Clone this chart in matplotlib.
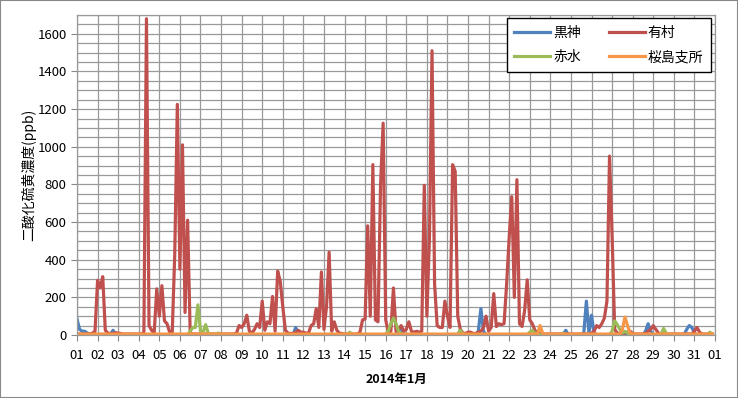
import numpy as np
import matplotlib
matplotlib.use("Agg")
import matplotlib.pyplot as plt
from matplotlib.patches import Rectangle

plt.rcParams['font.family'] = ['Noto Sans CJK JP', 'DejaVu Sans']

# 3-hourly SO2 readings (ppb), Jan 2014, one row per day (8 values)
kurokami = [
    [85, 30, 20, 20, 10, 5, 3, 3], [3, 3, 3, 3, 3, 3, 25, 5], [2] * 8, [2] * 8,
    [2] * 8, [2] * 8, [2] * 8, [2] * 8, [2] * 8, [2] * 8,
    [2, 2, 2, 2, 2, 40, 10, 2], [2] * 8, [2] * 8, [2] * 8, [2] * 8,
    [2, 2, 2, 2, 2, 35, 30, 5], [2] * 8, [2] * 8,
    [2, 2, 2, 2, 2, 25, 5, 2], [2, 2, 2, 2, 20, 140, 20, 2],
    [2] * 8, [2] * 8, [2] * 8, [2, 2, 2, 2, 2, 5, 25, 2],
    [2, 2, 2, 2, 2, 10, 180, 10], [105, 10, 2, 2, 2, 2, 2, 2], [2] * 8,
    [2, 2, 2, 2, 2, 20, 60, 20], [2] * 8,
    [2, 2, 2, 2, 2, 30, 50, 40], [10, 2, 2, 2, 2, 2, 2, 2],
]
arimura = [
    [5, 5, 5, 5, 5, 5, 10, 20],
    [290, 250, 310, 25, 10, 8, 8, 12],
    [10, 8, 5, 5, 5, 5, 5, 5],
    [5, 5, 15, 1680, 50, 25, 10, 245],
    [100, 262, 75, 60, 15, 5, 430, 1225],
    [350, 1010, 120, 610, 10, 5, 5, 5],
    [5, 5, 5, 5, 5, 5, 5, 5],
    [5, 5, 5, 5, 5, 5, 10, 50],
    [40, 60, 105, 20, 10, 30, 60, 40],
    [180, 25, 70, 60, 205, 20, 340, 285],
    [150, 25, 10, 8, 8, 15, 25, 15],
    [15, 10, 10, 50, 60, 140, 40, 335],
    [30, 150, 440, 20, 70, 25, 10, 8],
    [5, 5, 5, 5, 5, 5, 15, 80],
    [85, 580, 100, 905, 80, 70, 800, 1125],
    [80, 15, 20, 250, 20, 30, 50, 20],
    [30, 70, 20, 15, 20, 15, 20, 795],
    [100, 515, 1510, 270, 50, 40, 40, 180],
    [100, 40, 905, 870, 100, 30, 10, 8],
    [15, 15, 8, 8, 15, 20, 40, 100],
    [20, 40, 220, 45, 60, 55, 60, 270],
    [520, 735, 200, 825, 60, 45, 130, 293],
    [80, 60, 25, 10, 8, 5, 5, 5],
    [5, 5, 5, 5, 5, 5, 8, 5],
    [5, 5, 5, 5, 5, 5, 5, 5],
    [10, 20, 50, 40, 60, 90, 180, 950],
    [530, 30, 10, 8, 8, 10, 15, 20],
    [8, 5, 5, 5, 5, 8, 20, 30],
    [50, 30, 10, 5, 5, 5, 5, 5],
    [5, 5, 5, 5, 5, 5, 5, 5],
    [20, 40, 15, 5, 5, 5, 5, 5],
]
akamizu = [
    [2] * 8, [2] * 8, [2] * 8, [2] * 8, [2] * 8,
    [2, 2, 2, 2, 20, 40, 40, 160], [20, 15, 55, 10, 5, 5, 5, 10],
    [2] * 8, [2] * 8, [2] * 8, [2] * 8, [2] * 8, [2] * 8,
    [2, 2, 15, 2, 2, 2, 2, 2], [2] * 8,
    [5, 20, 60, 90, 60, 20, 5, 2], [2] * 8, [2] * 8,
    [2, 2, 2, 2, 2, 25, 5, 2], [2] * 8, [2] * 8, [2] * 8,
    [15, 25, 10, 2, 2, 2, 2, 2], [2, 2, 2, 2, 2, 10, 2, 2], [2] * 8, [2] * 8,
    [20, 75, 55, 30, 10, 20, 10, 2], [2] * 8,
    [2, 2, 2, 2, 35, 10, 2, 2], [2] * 8, [2, 2, 2, 2, 2, 2, 15, 2],
]
sakurajima = [[5] * 8 for _ in range(31)]
sakurajima[22] = [5, 5, 5, 5, 50, 10, 5, 5]
sakurajima[26] = [5, 5, 5, 5, 30, 95, 50, 10]

names = ['黒神', '有村', '赤水', '桜島支所']
colors = ['#4F81BD', '#C0504D', '#9BBB59', '#F79646']
series = [kurokami, arimura, akamizu, sakurajima]

day_labels = ['%02d' % d for d in range(1, 32)] + ['01']

fig = plt.figure(figsize=(7.38, 3.98), dpi=100)
ax = fig.add_axes([77 / 738, 1 - 335 / 398, 638 / 738, 320 / 398])

lines = []
for vals, name, c in zip(series, names, colors):
    y = np.array(vals).ravel()
    x = np.arange(len(y)) / 8.0
    ln, = ax.plot(x, y, color=c, lw=2.3, label=name, solid_joinstyle='round')
    lines.append(ln)

ax.set_xlim(0, 31)
ax.set_ylim(0, 1700)
ax.set_yticks(range(0, 1601, 200))
ax.set_yticks(range(0, 1701, 50), minor=True)
ax.set_xticks(range(0, 32))
ax.set_xticklabels(day_labels)
ax.grid(True, which='both', axis='y', color='#999999', lw=0.9)
ax.grid(True, which='major', axis='x', color='#999999', lw=0.9)
ax.set_axisbelow(True)
ax.tick_params(axis='y', which='minor', length=0)
ax.tick_params(axis='both', which='major', length=4, color='#888888',
               labelsize=9.5)
ax.tick_params(axis='x', pad=6)
for s in ax.spines.values():
    s.set_color('#999999')
    s.set_linewidth(0.9)

ax.set_ylabel('二酸化硫黄濃度(ppb)', fontsize=10, labelpad=1)
ax.set_xlabel('2014年1月', fontsize=9, fontweight='bold', labelpad=8)

# legend fills column-wise, so order gives rows 黒神/有村 and 赤水/桜島支所
order = [0, 2, 1, 3]
leg = ax.legend([lines[i] for i in order], [names[i] for i in order],
                loc='upper right', ncol=2, fontsize=10, frameon=True,
                fancybox=False, edgecolor='black', framealpha=1,
                handlelength=2.6, columnspacing=2.0, borderpad=0.55,
                labelspacing=0.75, handletextpad=0.2, borderaxespad=0,
                bbox_to_anchor=(0.9933, 0.9906))
leg.get_frame().set_linewidth(1.0)

fig.patches.append(Rectangle((0, 0), 1, 1, transform=fig.transFigure,
                             fill=False, edgecolor='#888888', lw=1.5))

fig.savefig('out.png', dpi=100)
